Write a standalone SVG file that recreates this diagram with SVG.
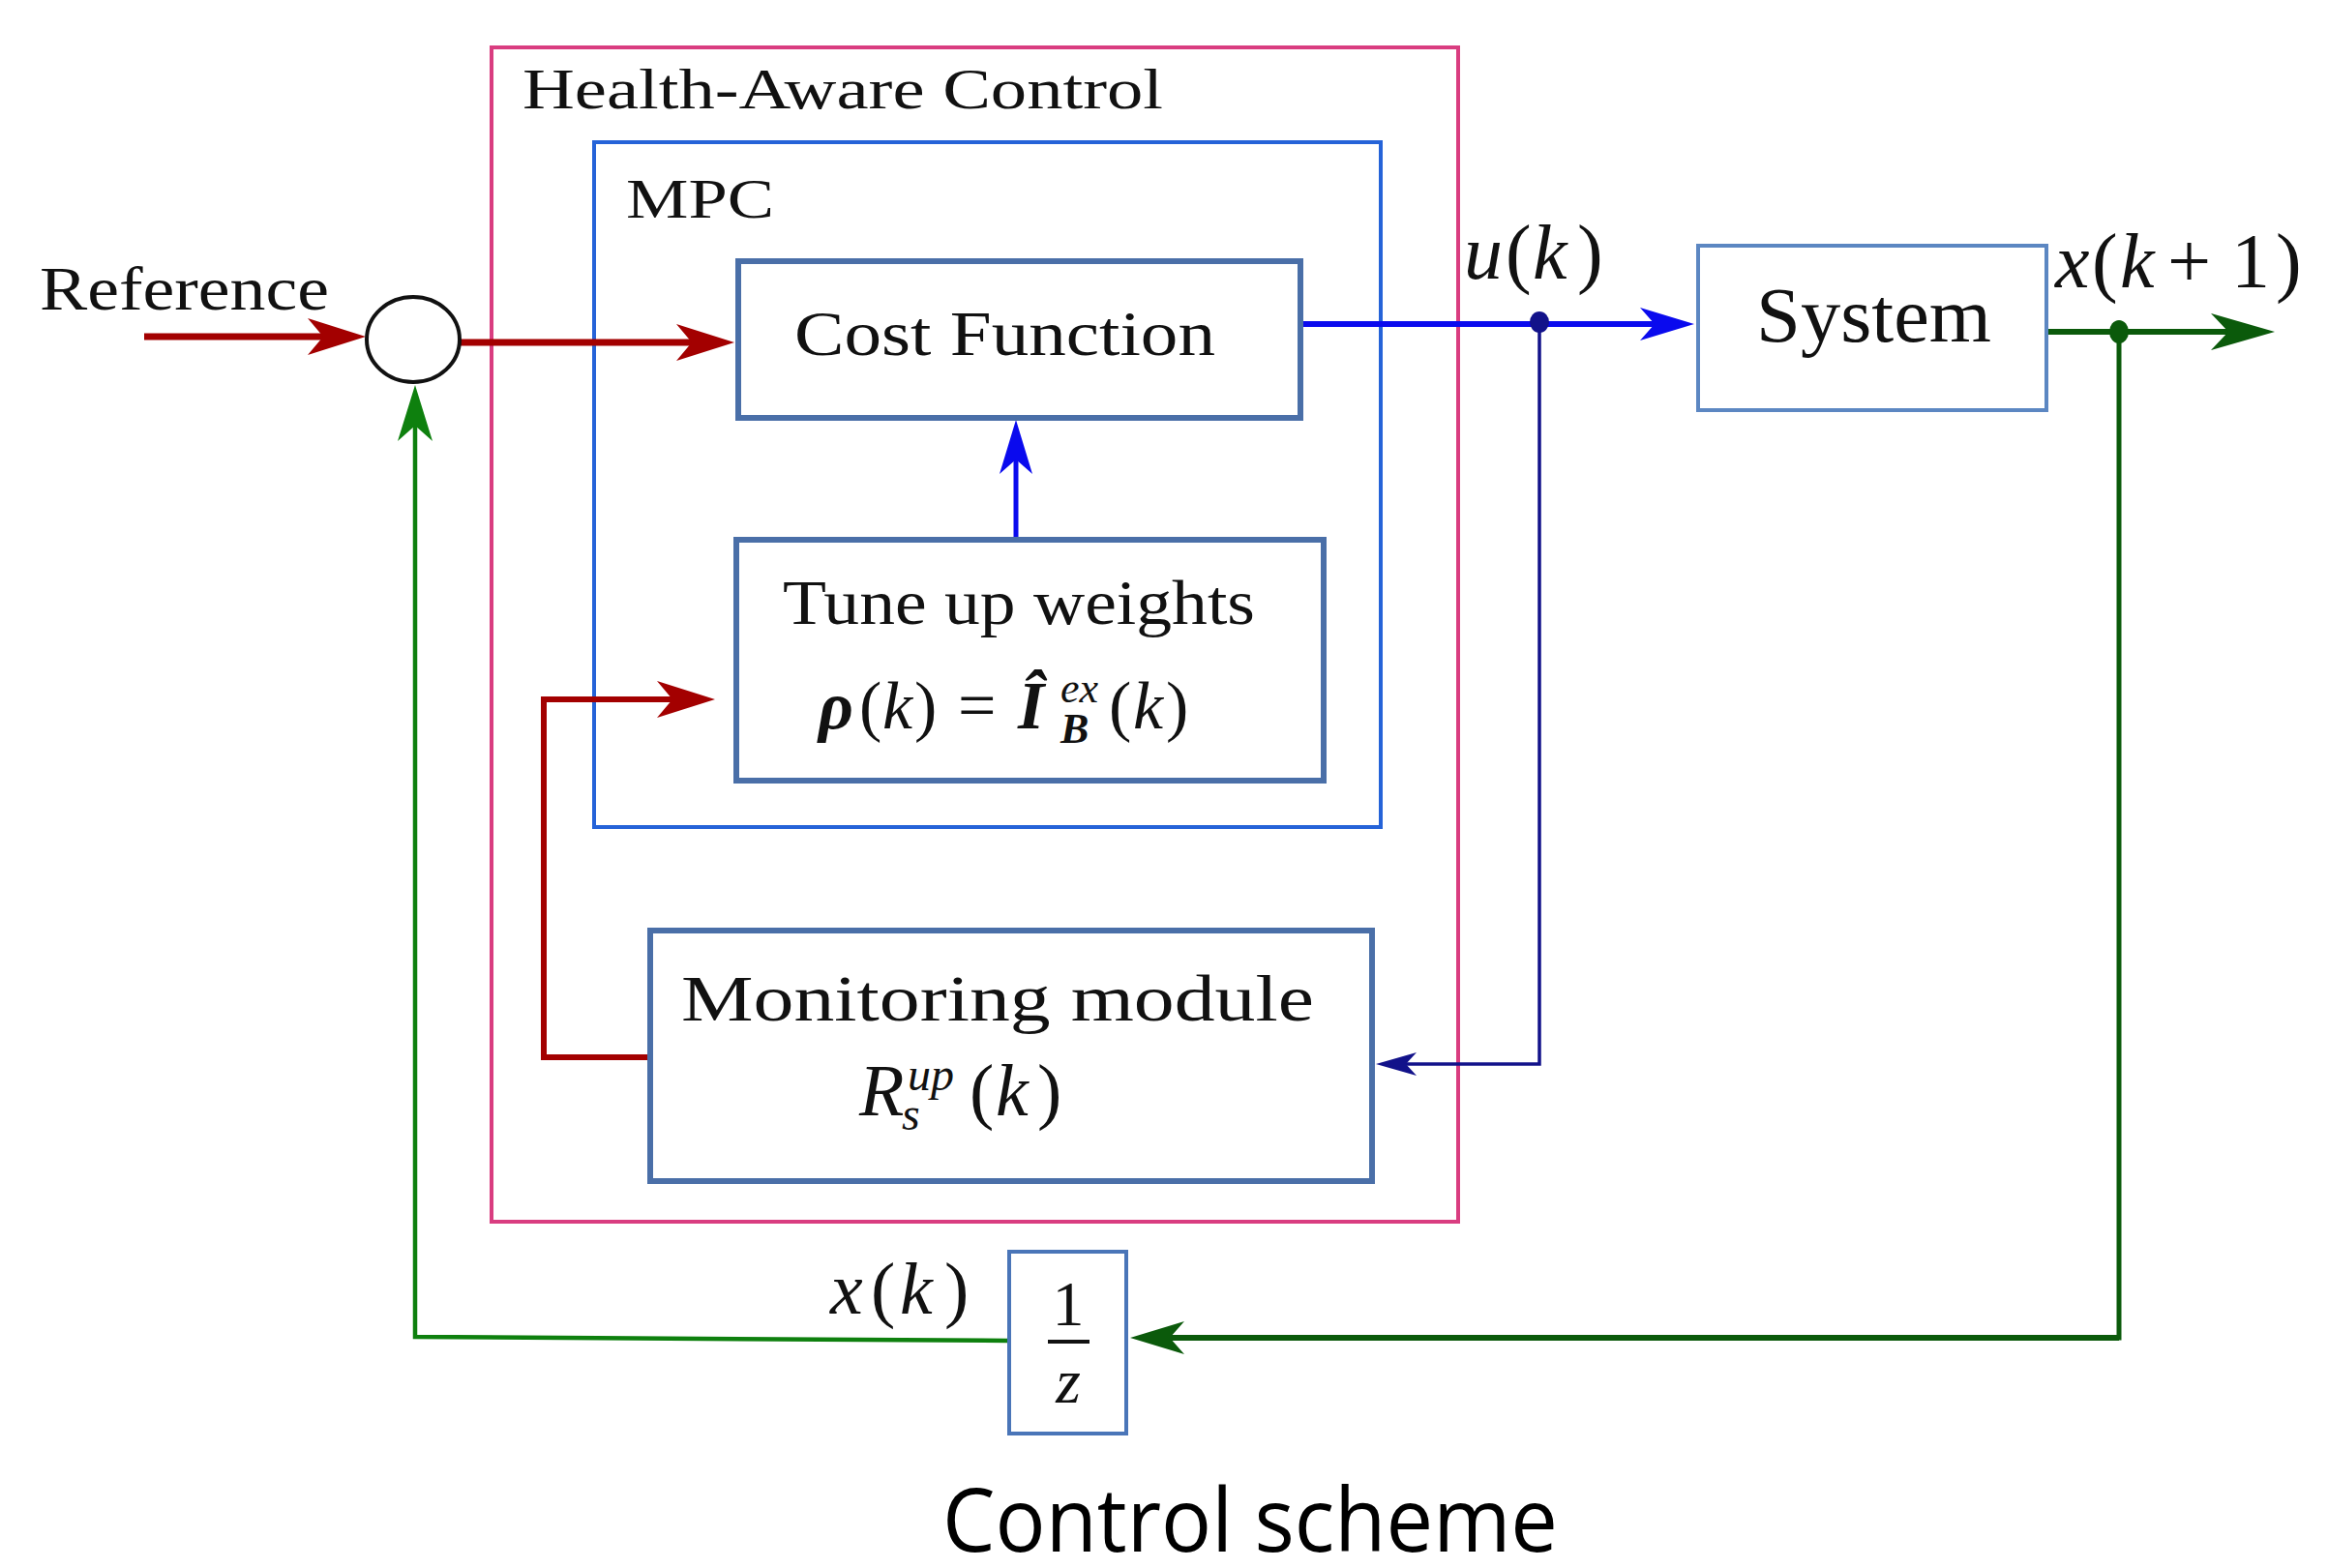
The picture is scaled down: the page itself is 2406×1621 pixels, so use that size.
<svg xmlns="http://www.w3.org/2000/svg" width="2406" height="1621" viewBox="0 0 2406 1621">
<style>
.serif{font-family:"Liberation Serif","Times New Roman",serif;fill:#111}
.it{font-style:italic}
.bi{font-style:italic;font-weight:bold}
.box{fill:#fff;stroke:#4a6fa8;stroke-width:6}
.conn{fill:none;stroke-linejoin:miter}
</style>
<defs>
<marker id="mRed" markerUnits="userSpaceOnUse" viewBox="0 0 60 40" refX="16" refY="20" markerWidth="60" markerHeight="40" orient="auto"><path d="M0,1 L60,20 L0,39 L16,20 Z" fill="#a30000"/></marker>
<marker id="mBlue" markerUnits="userSpaceOnUse" viewBox="0 0 56 36" refX="15" refY="18" markerWidth="56" markerHeight="36" orient="auto"><path d="M0,1 L56,18 L0,35 L15,18 Z" fill="#0a0aee"/></marker>
<marker id="mNavy" markerUnits="userSpaceOnUse" viewBox="0 0 42 26" refX="11" refY="13" markerWidth="42" markerHeight="26" orient="auto"><path d="M0,1 L42,13 L0,25 L11,13 Z" fill="#12128a"/></marker>
<marker id="mGreenD" markerUnits="userSpaceOnUse" viewBox="0 0 66 40" refX="18" refY="20" markerWidth="66" markerHeight="40" orient="auto"><path d="M0,1 L66,20 L0,39 L18,20 Z" fill="#0b5a0b"/></marker>
<marker id="mGreenD2" markerUnits="userSpaceOnUse" viewBox="0 0 56 36" refX="15" refY="18" markerWidth="56" markerHeight="36" orient="auto"><path d="M0,1 L56,18 L0,35 L15,18 Z" fill="#0b5a0b"/></marker>
<marker id="mGreenL" markerUnits="userSpaceOnUse" viewBox="0 0 58 38" refX="16" refY="19" markerWidth="58" markerHeight="38" orient="auto"><path d="M0,1 L58,19 L0,37 L16,19 Z" fill="#0e800e"/></marker>
</defs>
<rect width="2406" height="1621" fill="#fff"/>

<g id="health-aware-control">
<rect x="508" y="49" width="999" height="1214" fill="none" stroke="#d93d80" stroke-width="4"/>
<text class="serif" x="540" y="112" font-size="60" textLength="662" lengthAdjust="spacingAndGlyphs">Health-Aware Control</text>
</g>
<g id="mpc">
<rect x="614" y="147" width="813" height="708" fill="none" stroke="#2563d8" stroke-width="4"/>
<text class="serif" x="647" y="225" font-size="58" textLength="153" lengthAdjust="spacingAndGlyphs">MPC</text>
</g>

<g id="connectors">
<path class="conn" d="M149,348 L334,348" stroke="#a30000" stroke-width="7" marker-end="url(#mRed)"/>
<path class="conn" d="M476,354 L715,354" stroke="#a30000" stroke-width="7" marker-end="url(#mRed)"/>
<path class="conn" d="M672,1093 L562,1093 L562,723 L695,723" stroke="#a30000" stroke-width="6" marker-end="url(#mRed)"/>
<path class="conn" d="M1344,335 L1710,335" stroke="#0a0aee" stroke-width="6" marker-end="url(#mBlue)"/>
<path class="conn" d="M1050,558 L1050,475" stroke="#0a0aee" stroke-width="5" marker-end="url(#mBlue)"/>
<path class="conn" d="M1591,333 L1591,1100 L1453,1100" stroke="#12128a" stroke-width="3.5" marker-end="url(#mNavy)"/>
<ellipse cx="1591" cy="333" rx="10" ry="11" fill="#12128a"/>
<path class="conn" d="M2115,343 L2303,343" stroke="#0b5a0b" stroke-width="6" marker-end="url(#mGreenD)"/>
<path class="conn" d="M2190,343 L2190,1383 L1209,1383" stroke="#0b5a0b" stroke-width="5" marker-end="url(#mGreenD2)"/>
<path class="conn" d="M2190,1383 L1209,1383" stroke="#0b5a0b" stroke-width="6"/>
<ellipse cx="2190" cy="343" rx="10" ry="12" fill="#0b5a0b"/>
<path class="conn" d="M1043,1386 L429,1382 L429,440" stroke="#0e800e" stroke-width="4.5" marker-end="url(#mGreenL)"/>
</g>

<g id="sum-junction">
<ellipse cx="427" cy="351" rx="48" ry="44" fill="#fff" stroke="#111" stroke-width="4"/>
</g>
<g id="reference-label">
<text class="serif" x="41" y="320" font-size="64" textLength="299" lengthAdjust="spacingAndGlyphs">Reference</text>
</g>

<g id="cost-function">
<rect class="box" x="763" y="270" width="581" height="162"/>
<text class="serif" x="821" y="367" font-size="66" textLength="435" lengthAdjust="spacingAndGlyphs">Cost Function</text>
</g>

<g id="tune-up-weights">
<rect class="box" x="761" y="558" width="607" height="249"/>
<text class="serif" x="809" y="645" font-size="66" textLength="488" lengthAdjust="spacingAndGlyphs">Tune up weights</text>
<text class="serif" font-size="70" y="753"><tspan class="bi" x="846">ρ</tspan><tspan x="888">(</tspan><tspan class="it" x="912">k</tspan><tspan x="945">)</tspan><tspan x="990">=</tspan><tspan class="bi" x="1052">Î</tspan><tspan class="it" x="1096" y="726" font-size="44">ex</tspan><tspan class="bi" x="1096" y="768" font-size="44">B</tspan><tspan x="1146" y="753">(</tspan><tspan class="it" x="1171">k</tspan><tspan x="1205">)</tspan></text>
</g>

<g id="monitoring-module">
<rect class="box" x="672" y="962" width="746" height="259" stroke-width="7"/>
<text class="serif" x="704" y="1055" font-size="68" textLength="654" lengthAdjust="spacingAndGlyphs">Monitoring module</text>
<text class="serif" font-size="76" y="1153"><tspan class="it" x="888">R</tspan><tspan class="it" x="938" y="1127" font-size="48">up</tspan><tspan class="it" x="932" y="1168" font-size="48">s</tspan><tspan x="1002" y="1153">(</tspan><tspan class="it" x="1029">k</tspan><tspan x="1072">)</tspan></text>
</g>

<g id="system">
<rect x="1755" y="254" width="360" height="170" fill="#fff" stroke="#5c87c2" stroke-width="4"/>
<text class="serif" x="1815" y="353" font-size="80" textLength="243" lengthAdjust="spacingAndGlyphs">System</text>
</g>

<g id="delay">
<rect x="1043" y="1294" width="121" height="188" fill="#fff" stroke="#4a75b8" stroke-width="4"/>
<text class="serif" x="1104" y="1370" font-size="66" text-anchor="middle">1</text>
<rect x="1083" y="1385" width="43" height="4" fill="#111"/>
<text class="serif it" x="1104" y="1450" font-size="66" text-anchor="middle">z</text>
</g>

<g id="labels">
<text class="serif" font-size="80" y="288"><tspan class="it" x="1513">u</tspan><tspan x="1556">(</tspan><tspan class="it" x="1584">k</tspan><tspan x="1630">)</tspan></text>
<text class="serif" font-size="80" y="297"><tspan class="it" x="2124">x</tspan><tspan x="2162">(</tspan><tspan class="it" x="2191">k</tspan><tspan x="2240">+</tspan><tspan x="2306">1</tspan><tspan x="2352">)</tspan></text>
<text class="serif" font-size="76" y="1358"><tspan class="it" x="858">x</tspan><tspan x="900">(</tspan><tspan class="it" x="930">k</tspan><tspan x="976">)</tspan></text>
<text x="974" y="1604" font-family="'Open Sans','Noto Sans','Liberation Sans',sans-serif" font-size="92" textLength="636" lengthAdjust="spacingAndGlyphs" fill="#000">Control scheme</text>
</g>
</svg>
